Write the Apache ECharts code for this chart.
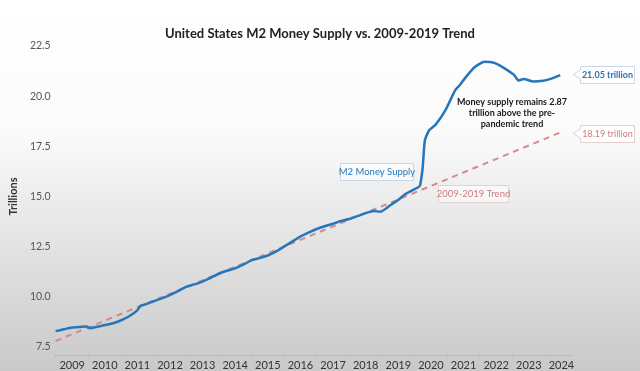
<!DOCTYPE html>
<html>
<head>
<meta charset="utf-8">
<script src="https://cdn.jsdelivr.net/npm/echarts@6/dist/echarts.min.js"></script>
<style>
html,body{margin:0;padding:0;}
#c{width:640px;height:371px;}
</style>
</head>
<body>
<div id="c"></div>
<script>
// Data (decimal year, trillions)
var m2Years = [2009.00,2009.25,2009.50,2009.75,2009.95,2010.05,2010.30,2010.60,2010.90,2011.10,2011.30,2011.50,2011.60,2011.80,2012.00,2012.25,2012.50,2012.75,2013.00,2013.25,2013.50,2013.75,2014.00,2014.25,2014.50,2014.75,2015.00,2015.25,2015.50,2015.75,2016.00,2016.25,2016.50,2016.75,2017.00,2017.25,2017.50,2017.75,2018.00,2018.25,2018.50,2018.75,2018.95,2019.25,2019.50,2019.70,2020.10,2020.17,2020.25,2020.32,2020.45,2020.65,2020.95,2021.25,2021.40,2021.55,2021.85,2022.15,2022.45,2022.75,2023.05,2023.20,2023.35,2023.65,2023.95,2024.15,2024.47];
var m2Values = [8.29,8.38,8.47,8.50,8.52,8.44,8.52,8.62,8.76,8.90,9.08,9.33,9.55,9.65,9.78,9.92,10.08,10.28,10.50,10.62,10.76,10.95,11.15,11.30,11.42,11.60,11.82,11.93,12.06,12.25,12.50,12.75,13.00,13.20,13.38,13.52,13.64,13.78,13.88,14.02,14.17,14.28,14.24,14.55,14.82,15.10,15.45,15.55,16.40,17.80,18.30,18.58,19.30,20.30,20.57,20.90,21.45,21.72,21.66,21.40,21.06,20.78,20.86,20.73,20.77,20.85,21.05];
var trendYears = [2009.00, 2024.47];
var trendValues = [7.80, 18.19];
var yearLabels = [2009,2010,2011,2012,2013,2014,2015,2016,2017,2018,2019,2020,2021,2022,2023,2024];
var yTicks = [7.5,10.0,12.5,15.0,17.5,20.0,22.5];
var titleText = 'United States M2 Money Supply vs. 2009-2019 Trend';
var m2Name = 'M2 Money Supply';
var trendName = '2009-2019 Trend';
var m2EndText = '21.05 trillion';
var trendEndText = '18.19 trillion';
var noteLines = ['Money supply remains 2.87', 'trillion above the pre-', 'pandemic trend'];

function pairs(xs, ys){ return xs.map(function(x,i){ return [x, ys[i]]; }); }

var BLUE = '#2676bb';
var PINK = '#d48a8c';
var FONT = 'Lato';

var chart = echarts.init(document.getElementById('c'));
chart.setOption({
  backgroundColor: {
    type: 'linear', x: 0, y: 0, x2: 0, y2: 1,
    colorStops: [
      {offset: 0, color: '#ffffff'},
      {offset: 0.35, color: '#fbfbfb'},
      {offset: 1, color: '#c9c9c9'}
    ]
  },
  animation: false,
  textStyle: {fontFamily: FONT},
  title: {
    text: titleText, left: 'center', top: 22,
    textStyle: {fontSize: 13, fontWeight: 'bold', color: '#222', fontFamily: FONT}
  },
  grid: {left: 46.5, right: 68, top: 46, bottom: 22},
  xAxis: {
    type: 'value', min: 2009, max: 2024.83, interval: 1,
    offset: 8,
    splitLine: {show: false},
    axisLine: {show: true, lineStyle: {color: '#bdbdbd', width: 1}},
    axisTick: {show: true, length: 3, lineStyle: {color: '#bdbdbd'}},
    axisLabel: {
      showMaxLabel: false,
      margin: 5,
      padding: [0, 0, 0, 33],
      fontSize: 11, color: '#333',
      formatter: function(v){ return yearLabels.indexOf(Math.round(v)) >= 0 && Math.abs(v - Math.round(v)) < 1e-6 ? String(Math.round(v)) : ''; }
    }
  },
  yAxis: {
    type: 'value', min: yTicks[0], max: yTicks[yTicks.length-1], interval: 2.5,
    name: 'Trillions', nameLocation: 'middle', nameGap: 24,
    nameTextStyle: {fontSize: 11, fontWeight: 'bold', color: '#333', fontFamily: FONT},
    splitLine: {show: false},
    axisLine: {show: false},
    axisTick: {show: false},
    axisLabel: {margin: 5, fontSize: 10.5, color: '#555', formatter: function(v){ return v.toFixed(1); }}
  },
  series: [
    {
      name: trendName, type: 'line', data: pairs(trendYears, trendValues),
      symbol: 'none', lineStyle: {color: PINK, width: 2, type: [6, 5]}, z: 2
    },
    {
      name: m2Name, type: 'line', data: pairs(m2Years, m2Values),
      symbol: 'none', smooth: 0.2, lineStyle: {color: BLUE, width: 2.5}, z: 3
    }
  ],
  graphic: [
    {type: 'rect', shape: {x: 340.5, y: 163.5, width: 73, height: 17}, style: {fill: 'rgba(255,255,255,0.6)', stroke: '#c9d8e6', lineWidth: 1}},
    {type: 'text', x: 377, y: 172, style: {text: m2Name, fill: BLUE, font: '9.5px Lato', textAlign: 'center', textVerticalAlign: 'middle'}},
    {type: 'rect', shape: {x: 438.5, y: 185.5, width: 70, height: 17}, style: {fill: 'rgba(255,255,255,0.6)', stroke: '#e2d2d2', lineWidth: 1}},
    {type: 'text', x: 473.5, y: 194, style: {text: trendName, fill: '#d07a7c', font: '9.5px Lato', textAlign: 'center', textVerticalAlign: 'middle'}},
    {type: 'polygon', shape: {points: [[573,74.5],[580.5,70],[580.5,66.5],[634.5,66.5],[634.5,83.5],[580.5,83.5],[580.5,79]]}, style: {fill: '#ffffff', stroke: '#c9d8e6', lineWidth: 1}},
    {type: 'text', x: 607.5, y: 75, style: {text: m2EndText, fill: BLUE, font: 'bold 9px Lato', textAlign: 'center', textVerticalAlign: 'middle'}},
    {type: 'polygon', shape: {points: [[573,133.5],[580.5,129],[580.5,125.5],[634.5,125.5],[634.5,142.5],[580.5,142.5],[580.5,138]]}, style: {fill: '#ffffff', stroke: '#e6cfcf', lineWidth: 1}},
    {type: 'text', x: 607.5, y: 134, style: {text: trendEndText, fill: '#d07a7c', font: '9px Lato', textAlign: 'center', textVerticalAlign: 'middle'}},
    {type: 'text', x: 512, y: 113, style: {text: noteLines.join('\n'), fill: '#1a1a1a', font: 'bold 9px Lato', lineHeight: 11, textAlign: 'center', textVerticalAlign: 'middle'}}
  ]
});
</script>
</body>
</html>
